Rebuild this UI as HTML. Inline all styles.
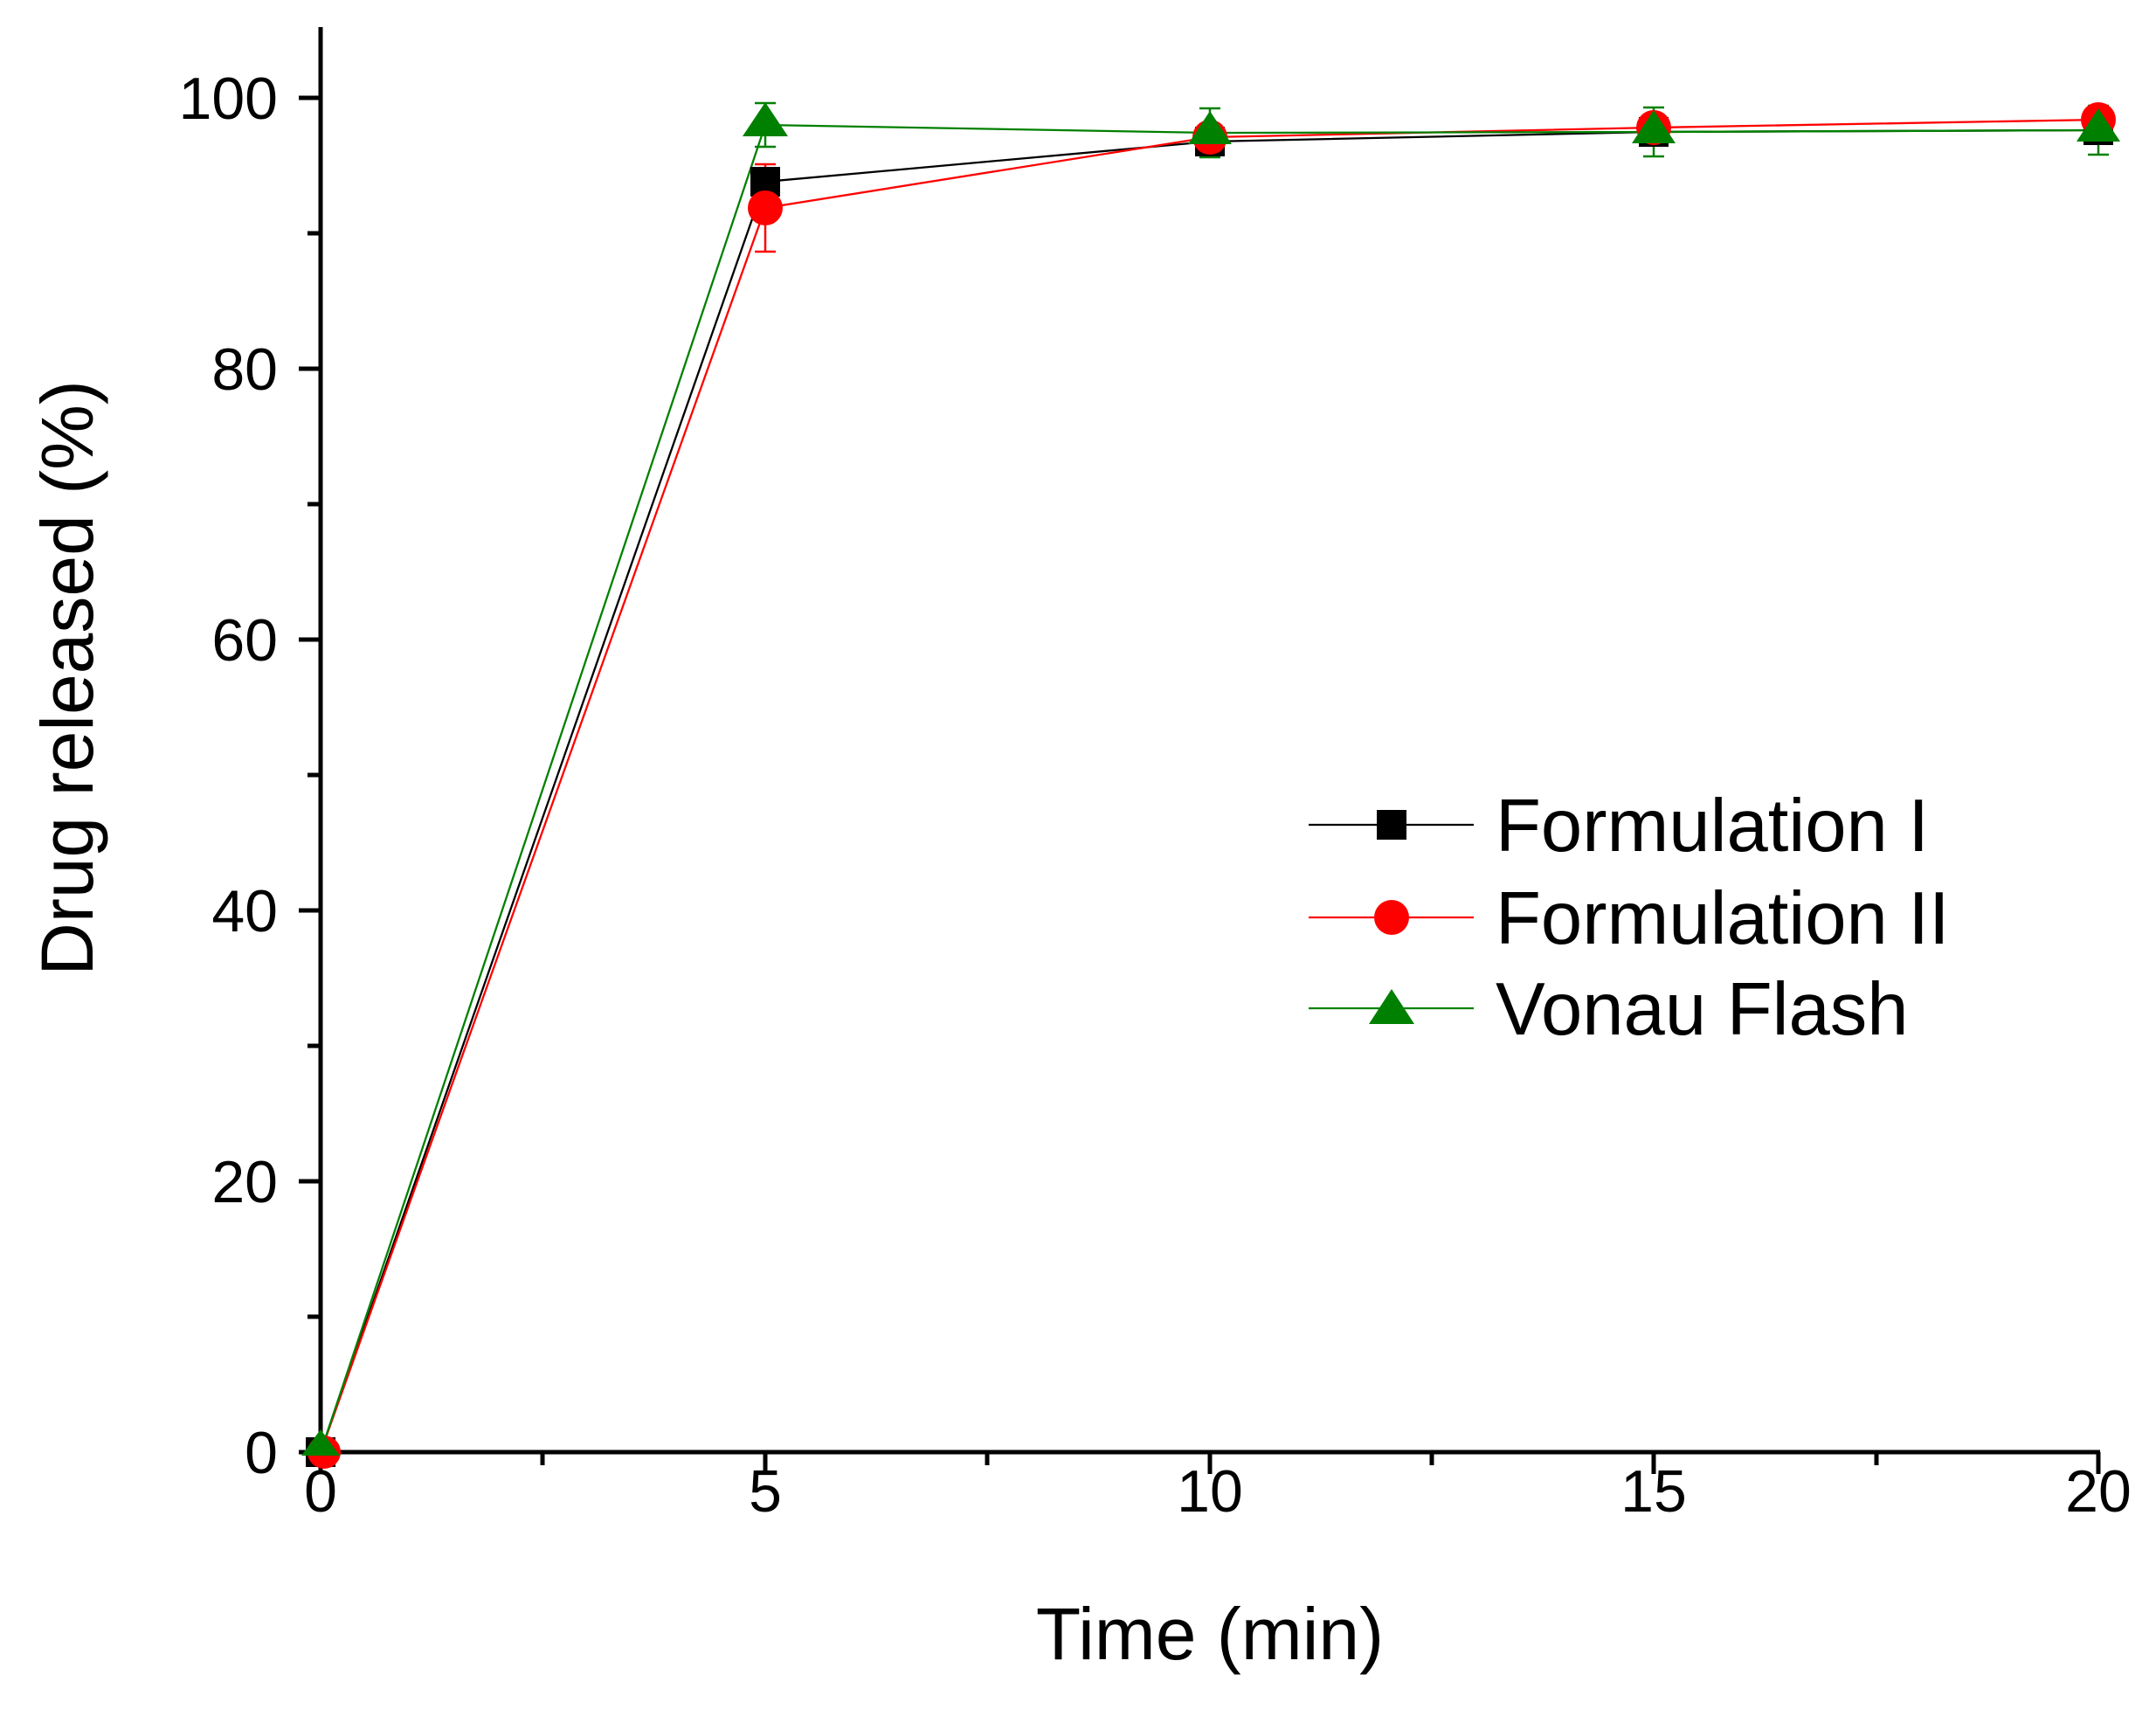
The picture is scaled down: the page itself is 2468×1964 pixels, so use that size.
<!DOCTYPE html>
<html><head><style>body{margin:0;background:#fff}svg{display:block}</style></head><body>
<svg width="2468" height="1964" xmlns="http://www.w3.org/2000/svg" font-family="Liberation Sans, Arial, sans-serif">
<rect width="2468" height="1964" fill="#fff"/>
<g stroke="#000" stroke-width="5" fill="none">
<line x1="367" y1="31" x2="367" y2="1665"/>
<line x1="365" y1="1662" x2="2404" y2="1662"/>
<line x1="342" y1="1662" x2="367" y2="1662"/><line x1="352" y1="1507" x2="367" y2="1507"/>
<line x1="342" y1="1352" x2="367" y2="1352"/><line x1="352" y1="1197" x2="367" y2="1197"/>
<line x1="342" y1="1042" x2="367" y2="1042"/><line x1="352" y1="887" x2="367" y2="887"/>
<line x1="342" y1="732" x2="367" y2="732"/><line x1="352" y1="577" x2="367" y2="577"/>
<line x1="342" y1="422" x2="367" y2="422"/><line x1="352" y1="267" x2="367" y2="267"/>
<line x1="342" y1="112" x2="367" y2="112"/>
<line x1="367" y1="1662" x2="367" y2="1687"/><line x1="621" y1="1662" x2="621" y2="1677"/>
<line x1="876" y1="1662" x2="876" y2="1687"/><line x1="1130" y1="1662" x2="1130" y2="1677"/>
<line x1="1385" y1="1662" x2="1385" y2="1687"/><line x1="1639" y1="1662" x2="1639" y2="1677"/>
<line x1="1893" y1="1662" x2="1893" y2="1677"/><line x1="2148" y1="1662" x2="2148" y2="1677"/>
<line x1="2402" y1="1662" x2="2402" y2="1687"/>
<line x1="1893" y1="1662" x2="1893" y2="1687"/>
</g>
<g font-size="68" text-anchor="end" fill="#000">
<text x="318" y="1686">0</text><text x="318" y="1376">20</text><text x="318" y="1066">40</text>
<text x="318" y="756">60</text><text x="318" y="446">80</text><text x="318" y="136">100</text>
</g>
<g font-size="68" text-anchor="middle" fill="#000">
<text x="367" y="1730">0</text><text x="876" y="1730">5</text><text x="1385" y="1730">10</text>
<text x="1893" y="1730">15</text><text x="2402" y="1730">20</text>
</g>
<text x="1385" y="1899" font-size="84" text-anchor="middle">Time (min)</text>
<text transform="translate(106,776) rotate(-90)" font-size="84" text-anchor="middle">Drug released (%)</text>
<polyline fill="none" stroke="#000" stroke-width="2.3" points="367,1662 876,208 1385,162 1893,151 2402,149"/>
<polyline fill="none" stroke="#f00" stroke-width="2.3" points="367,1662 876,238 1385,157 1893,146 2402,137"/>
<polyline fill="none" stroke="#008000" stroke-width="2.3" points="367,1662 876,143 1385,152 1893,151 2402,149"/>
<g stroke="#f00" stroke-width="2.5"><line x1="876" y1="188" x2="876" y2="288"/><line x1="864" y1="188" x2="888" y2="188"/><line x1="864" y1="288" x2="888" y2="288"/></g>
<g stroke="#008000" stroke-width="2.5">
<line x1="876" y1="118" x2="876" y2="168"/><line x1="864" y1="118" x2="888" y2="118"/><line x1="864" y1="168" x2="888" y2="168"/>
<line x1="1385" y1="124" x2="1385" y2="180"/><line x1="1373" y1="124" x2="1397" y2="124"/><line x1="1373" y1="180" x2="1397" y2="180"/>
<line x1="1893" y1="123" x2="1893" y2="179"/><line x1="1881" y1="123" x2="1905" y2="123"/><line x1="1881" y1="179" x2="1905" y2="179"/>
<line x1="2402" y1="121" x2="2402" y2="177"/><line x1="2390" y1="121" x2="2414" y2="121"/><line x1="2390" y1="177" x2="2414" y2="177"/>
</g>
<g fill="#000"><rect x="350" y="1645" width="34" height="34"/><rect x="859" y="191" width="34" height="34"/><rect x="1368" y="145" width="34" height="34"/><rect x="1876" y="134" width="34" height="34"/><rect x="2385" y="132" width="34" height="34"/></g>
<g fill="#f00"><circle cx="371" cy="1662" r="19"/><circle cx="876" cy="238" r="20"/><circle cx="1385" cy="157" r="20"/><circle cx="1893" cy="146" r="20"/><circle cx="2402" cy="137" r="20"/></g>
<g fill="#008000">
<polygon points="367,1636 389,1666 345,1666"/>
<polygon points="876,117 902,156 850,156"/>
<polygon points="1385,127 1410,165 1360,165"/>
<polygon points="1893,126 1918,164 1868,164"/>
<polygon points="2402,124 2427,162 2377,162"/>
</g>
<line x1="1498" y1="944" x2="1687" y2="944" stroke="#000" stroke-width="2.3"/>
<rect x="1576" y="927" width="34" height="34" fill="#000"/>
<line x1="1498" y1="1050" x2="1687" y2="1050" stroke="#f00" stroke-width="2.3"/>
<circle cx="1593" cy="1050" r="20" fill="#f00"/>
<line x1="1498" y1="1154" x2="1687" y2="1154" stroke="#008000" stroke-width="2.3"/>
<polygon points="1593,1132 1619,1172 1567,1172" fill="#008000"/>
<g font-size="85" fill="#000">
<text x="1712" y="974">Formulation I</text>
<text x="1712" y="1080">Formulation II</text>
<text x="1712" y="1184">Vonau Flash</text>
</g>
</svg>
</body></html>
